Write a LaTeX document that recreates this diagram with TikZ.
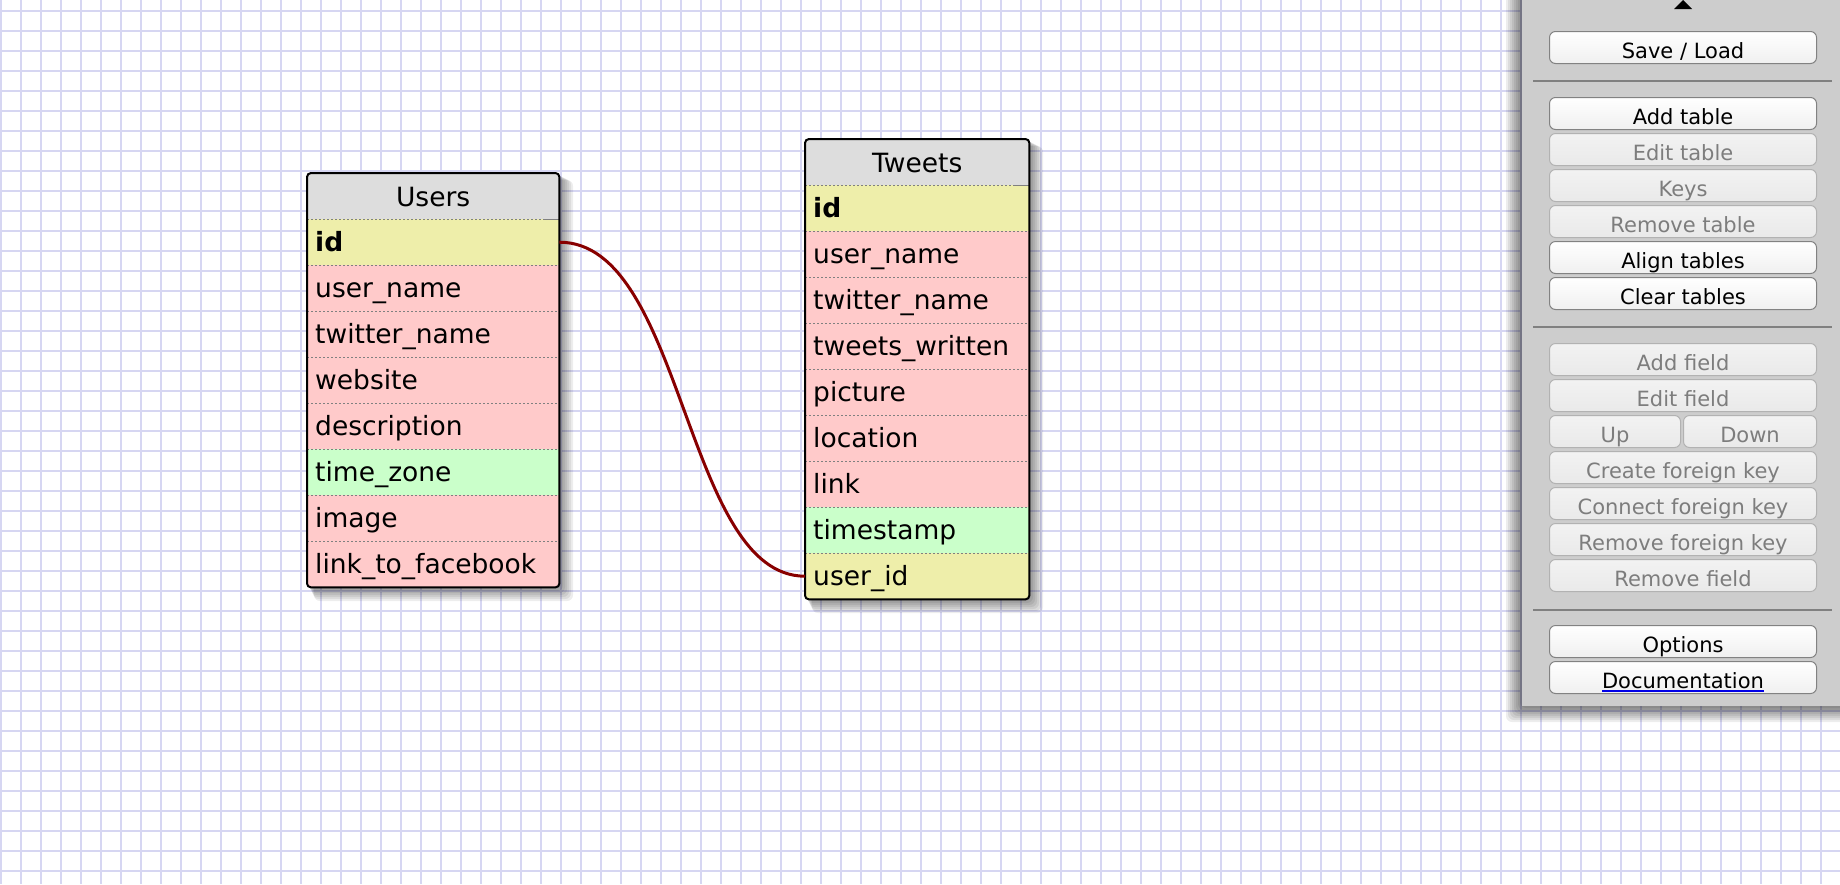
\documentclass[tikz,border=0pt]{standalone}
\usepackage{fontspec}
\setmainfont{DejaVu Sans}
\usepackage{tikz}

\definecolor{gridblue}{RGB}{214,214,242}
\definecolor{headgray}{RGB}{221,221,221}
\definecolor{keyyellow}{RGB}{238,238,170}
\definecolor{strpink}{RGB}{255,202,202}
\definecolor{dtgreen}{RGB}{202,255,202}
\definecolor{fkred}{RGB}{136,0,0}
\definecolor{panelgray}{RGB}{205,205,205}
\definecolor{btnedge}{RGB}{130,130,130}
\definecolor{offtext}{RGB}{125,125,125}
\definecolor{linkblue}{RGB}{0,0,230}

\newcommand\tabfont{\fontsize{26.5}{30}\selectfont}
\newcommand\btnfont{\fontsize{21}{25}\selectfont}
\newcommand\doclink[1]{\leavevmode\setbox0\hbox{#1}\rlap{\textcolor{linkblue}{\rule[-3.5pt]{\wd0}{1.8pt}}}\box0}

\tikzset{
    gridline/.style={gridblue, line width=1.8pt},
    softshadow/.style={black, opacity=0.07, rounded corners=6pt},
    field/.style={anchor=north west, minimum height=46pt, inner xsep=8pt, inner ysep=0pt,
        text height=19pt, text depth=1pt, align=left, font=\tabfont},
    urow/.style={field, text width=236pt},
    trow/.style={field, text width=208pt},
    head/.style={fill=headgray, align=center, text height=21pt},
    pk/.style={fill=keyyellow, font=\tabfont\bfseries},
    key/.style={fill=keyyellow},
    str/.style={fill=strpink},
    dt/.style={fill=dtgreen},
    sep/.style={gray, line width=1.3pt, dash pattern=on 2pt off 2pt},
    frame/.style={draw=black, line width=2pt, rounded corners=4pt},
    fkline/.style={fkred, line width=3pt},
    panel/.style={fill=panelgray},
    rule/.style={gray, line width=1.5pt},
    btn/.style={anchor=north west, draw=btnedge, line width=1pt, rounded corners=6pt,
        top color=white, bottom color=gray!12, minimum width=267pt, minimum height=32pt,
        inner sep=0pt, text height=22pt, text depth=0pt, font=\btnfont},
    off/.style={draw=gray!60, top color=gray!10, bottom color=gray!17, text=offtext}
}

\begin{document}
\begin{tikzpicture}[x=1pt, y=-1pt]
    \useasboundingbox (0,0) rectangle (1840,884);
    \fill[white] (0,0) rectangle (1840,884);
    \foreach \gx in {1,21,...,1821} \draw[gridline] (\gx,0) -- (\gx,884);
    \foreach \gy in {11,31,...,871} \draw[gridline] (0,\gy) -- (1840,\gy);

    \foreach \s in {2,4,...,14} {
        \fill[softshadow] (307+\s/2,173+\s/2) rectangle (559+\s,587+\s);
        \fill[softshadow] (805+\s/2,139+\s/2) rectangle (1029+\s,599+\s);
    }

    \node[urow, head] at (307,173) (u0) {Users};
    \node[urow, pk] at (307,219) (u1) {id};
    \node[urow, str] at (307,265) (u2) {user\_name};
    \node[urow, str] at (307,311) (u3) {twitter\_name};
    \node[urow, str] at (307,357) (u4) {website};
    \node[urow, str] at (307,403) (u5) {description};
    \node[urow, dt] at (307,449) (u6) {time\_zone};
    \node[urow, str] at (307,495) (u7) {image};
    \node[urow, str] at (307,541) (u8) {link\_to\_facebook};
    \foreach \r in {0,...,7} \draw[sep] (u\r.south west) -- (u\r.south east);
    \draw[gray, line width=1.3pt] ([xshift=-14pt]u0.south east) -- (u0.south east);
    \draw[frame] (u0.north west) rectangle (u8.south east);

    \node[trow, head] at (805,139) (t0) {Tweets};
    \node[trow, pk] at (805,185) (t1) {id};
    \node[trow, str] at (805,231) (t2) {user\_name};
    \node[trow, str] at (805,277) (t3) {twitter\_name};
    \node[trow, str] at (805,323) (t4) {tweets\_written};
    \node[trow, str] at (805,369) (t5) {picture};
    \node[trow, str] at (805,415) (t6) {location};
    \node[trow, str] at (805,461) (t7) {link};
    \node[trow, dt] at (805,507) (t8) {timestamp};
    \node[trow, key] at (805,553) (t9) {user\_id};
    \foreach \r in {0,...,8} \draw[sep] (t\r.south west) -- (t\r.south east);
    \draw[gray, line width=1.3pt] ([xshift=-14pt]t0.south east) -- (t0.south east);
    \draw[frame] (t0.north west) rectangle (t9.south east);

    \draw[fkline] (u1.east) .. controls +(125,0) and +(-121,0) .. (t9.west);

    \foreach \s in {2,4,...,16}
        \fill[softshadow] (1522-\s,-20) rectangle (1860,706+\s);
    \fill[panel] (1522,-20) rectangle (1860,706);
    \fill (1674,9) -- (1683,0) -- (1692,9) -- cycle;
    \draw[rule] (1533,81) -- (1832,81);
    \draw[rule] (1533,327) -- (1832,327);
    \draw[rule] (1533,610) -- (1832,610);

    \node[btn] at (1549,31) (b1) {Save / Load};
    \node[btn] at (1549,97) (b2) {Add table};
    \node[btn, off] at (1549,133) (b3) {Edit table};
    \node[btn, off] at (1549,169) (b4) {Keys};
    \node[btn, off] at (1549,205) (b5) {Remove table};
    \node[btn] at (1549,241) (b6) {Align tables};
    \node[btn] at (1549,277) (b7) {Clear tables};
    \node[btn, off] at (1549,343) (b8) {Add field};
    \node[btn, off] at (1549,379) (b9) {Edit field};
    \node[btn, off, minimum width=131pt] at (1549,415) (b10) {Up};
    \node[btn, off, minimum width=133pt] at (1683,415) (b11) {Down};
    \node[btn, off] at (1549,451) (b12) {Create foreign key};
    \node[btn, off] at (1549,487) (b13) {Connect foreign key};
    \node[btn, off] at (1549,523) (b14) {Remove foreign key};
    \node[btn, off] at (1549,559) (b15) {Remove field};
    \node[btn] at (1549,625) (b16) {Options};
    \node[btn] at (1549,661) (b17) {\doclink{Documentation}};
\end{tikzpicture}
\end{document}
